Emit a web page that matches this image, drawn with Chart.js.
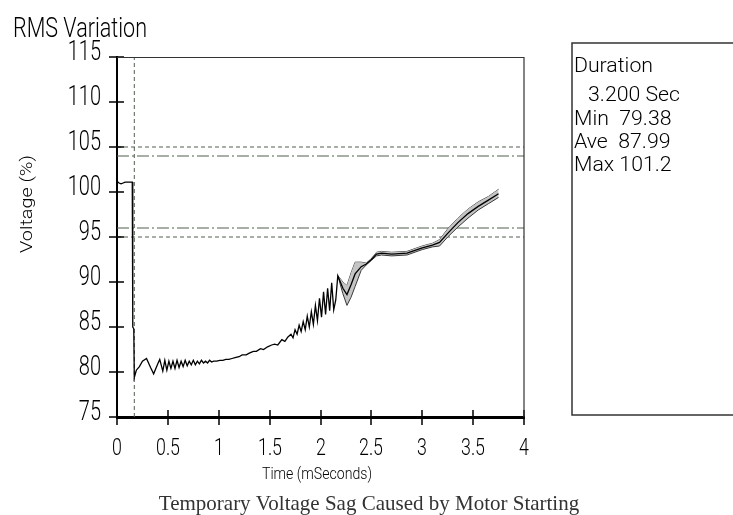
<!DOCTYPE html>
<html>
<head>
<meta charset="utf-8">
<script src="https://cdn.jsdelivr.net/npm/chart.js@4/dist/chart.umd.min.js"></script>
<style>
  html, body { margin: 0; padding: 0; background: #fff; }
  #wrap { width: 733px; height: 515px; position: relative; }
</style>
</head>
<body>
<div id="wrap"><canvas id="rms"></canvas></div>
<script>
const THIN = 'Roboto, Lato, "Liberation Sans", sans-serif';

// rms trace (seconds, % of nominal)
const timeS = [0, 0.02, 0.04, 0.06, 0.08, 0.12, 0.15, 0.155, 0.165, 0.17,
    0.19, 0.22, 0.25, 0.29, 0.33, 0.36, 0.40, 0.42, 0.45, 0.47,
    0.49, 0.51, 0.53, 0.55, 0.57, 0.59, 0.61, 0.63, 0.65, 0.67,
    0.69, 0.71, 0.73, 0.75, 0.77, 0.79, 0.81, 0.83, 0.85, 0.87,
    0.89, 0.91, 0.93, 0.95, 0.98, 1.01, 1.04, 1.07, 1.10, 1.13,
    1.16, 1.20, 1.23, 1.27, 1.30, 1.34, 1.37, 1.41, 1.44, 1.48,
    1.52, 1.55, 1.58, 1.62, 1.65, 1.68, 1.71, 1.73, 1.75, 1.77,
    1.79, 1.81, 1.83, 1.85, 1.87, 1.89, 1.91, 1.93, 1.95, 1.97,
    1.99, 2.01, 2.03, 2.05, 2.07, 2.09, 2.11, 2.13, 2.15, 2.17,
    2.22, 2.26, 2.30, 2.34, 2.40, 2.45, 2.50, 2.55, 2.60, 2.70,
    2.85, 3.00, 3.10, 3.17, 3.25, 3.35, 3.45, 3.55, 3.65, 3.75];
const rmsPct = [101.2, 101.0, 100.9, 101.0, 101.1, 101.1, 101.1, 85.0, 84.8, 79.4,
    80.2, 80.6, 81.2, 81.5, 80.5, 79.8, 80.9, 81.4, 80.1, 81.3,
    80.2, 81.2, 80.4, 81.2, 80.4, 81.3, 80.5, 81.2, 80.6, 81.3,
    80.7, 81.2, 80.8, 81.3, 80.8, 81.2, 80.9, 81.3, 81.0, 81.2,
    81.0, 81.3, 81.1, 81.2, 81.2, 81.3, 81.3, 81.4, 81.4, 81.5,
    81.6, 81.7, 81.9, 81.9, 82.1, 82.3, 82.3, 82.6, 82.5, 82.8,
    83.0, 83.1, 83.0, 83.6, 83.4, 83.9, 84.2, 83.8, 84.7, 84.2,
    85.2, 84.5, 85.6, 84.7, 86.2, 85.0, 86.7, 85.3, 87.4, 85.7,
    88.2, 86.1, 88.9, 86.4, 89.3, 86.8, 89.9, 86.9, 88.0, 90.7,
    89.3, 88.6, 89.7, 90.9, 91.7, 92.0, 92.5, 93.1, 93.2, 93.1,
    93.2, 93.8, 94.1, 94.4, 95.4, 96.6, 97.6, 98.4, 99.1, 99.8];

// min / max envelope
const bandTime = [2.17, 2.22, 2.26, 2.30, 2.34, 2.40, 2.45, 2.50, 2.55, 2.60,
    2.70, 2.85, 3.00, 3.10, 3.17, 3.25, 3.35, 3.45, 3.55, 3.65, 3.75];
const bandHigh = [90.7, 90.0, 89.6, 91.0, 92.2, 92.2, 92.1, 92.6, 93.3, 93.4,
    93.3, 93.4, 94.0, 94.3, 94.7, 95.9, 97.1, 98.1, 98.9, 99.5, 100.3];
const bandLow = [90.7, 88.7, 87.4, 88.3, 89.5, 91.3, 91.9, 92.4, 92.9, 93.0,
    92.9, 93.0, 93.6, 93.9, 94.0, 95.0, 96.1, 97.1, 98.0, 98.7, 99.4];

const limitLevels = [105, 104, 96, 95];
const limitDashes = [[4, 3], [12, 3, 2, 3], [12, 3, 2, 3], [4, 3]];
const markerTime = 0.17;

const xRange = [0, 4];
const yRange = [75, 115];

const statLines = ['Duration', '3.200 Sec', 'Min  79.38', 'Ave  87.99', 'Max 101.2'];

function pts(xs, ys) {
    return xs.map((x, i) => ({x: x, y: ys[i]}));
}

let datasets = [
    {
        label: 'rms',
        data: pts(timeS, rmsPct),
        borderColor: '#000',
        borderWidth: 1.3,
        pointRadius: 0,
        fill: false,
        order: 0
    },
    {
        label: 'high',
        data: pts(bandTime, bandHigh),
        borderColor: '#3a3a3a',
        borderWidth: 1,
        pointRadius: 0,
        fill: false,
        order: 2
    },
    {
        label: 'low',
        data: pts(bandTime, bandLow),
        borderColor: '#3a3a3a',
        backgroundColor: '#c4c4c4',
        borderWidth: 1,
        pointRadius: 0,
        fill: '-1',
        order: 1
    }
];

limitLevels.forEach(function (lvl, i) {
    datasets.push({
        label: 'limit' + lvl,
        data: pts(xRange, [lvl, lvl]),
        borderColor: '#4f5e4f',
        borderWidth: 1,
        borderDash: limitDashes[i],
        pointRadius: 0,
        fill: false,
        order: 3
    });
});

datasets.push({
    label: 'marker',
    data: pts([markerTime, markerTime], yRange),
    borderColor: '#4f5e4f',
    borderWidth: 1,
    borderDash: [4, 3],
    pointRadius: 0,
    fill: false,
    order: 3
});

function squeezeText(ctx, text, x, y, size, sx, align) {
    ctx.save();
    ctx.font = '300 ' + size + 'px ' + THIN;
    ctx.translate(x, y);
    ctx.scale(sx, 1);
    ctx.textAlign = align;
    ctx.fillText(text, 0, 0);
    ctx.restore();
}

function fitText(ctx, text, x, y, size, width, align) {
    ctx.font = '300 ' + size + 'px ' + THIN;
    let sx = width / ctx.measureText(text).width;
    squeezeText(ctx, text, x, y, size, sx, align);
    return sx;
}

// tick marks that cross the axes, labels, frame, and the side texts
const decor = {
    id: 'decor',
    afterDraw(chart) {
        const {ctx, chartArea: a, scales: {x, y}} = chart;
        ctx.save();
        ctx.strokeStyle = '#000';
        ctx.fillStyle = '#000';
        ctx.lineWidth = 1.5;
        ctx.textBaseline = 'alphabetic';
        ctx.beginPath();
        y.ticks.forEach(function (t) {
            let py = Math.round(y.getPixelForValue(t.value));
            ctx.moveTo(a.left - 8, py);
            ctx.lineTo(a.left + 7, py);
            squeezeText(ctx, String(t.value), a.left - 16, py + 3, 27, 0.74, 'right');
        });
        x.ticks.forEach(function (t) {
            let px = Math.round(x.getPixelForValue(t.value));
            ctx.moveTo(px, a.bottom - 7);
            ctx.lineTo(px, a.bottom + 8);
            squeezeText(ctx, String(t.value), px, 455, 24, 0.74, 'center');
        });
        ctx.stroke();

        ctx.strokeStyle = '#333';
        ctx.lineWidth = 1.2;
        ctx.beginPath();
        ctx.moveTo(a.left, a.top + 0.5);
        ctx.lineTo(a.right, a.top + 0.5);
        ctx.lineTo(a.right, a.bottom);
        ctx.stroke();

        // stats box
        ctx.lineWidth = 1.5;
        ctx.strokeRect(572, 43, 200, 372);
        let sx = fitText(ctx, statLines[0], 574, 72, 21, 79, 'left');
        const rowX = [574, 588, 574, 574, 574];
        const rowY = [72, 101, 125, 148, 171];
        for (let i = 1; i < statLines.length; i++) {
            squeezeText(ctx, statLines[i], rowX[i], rowY[i], 21, sx, 'left');
        }

        fitText(ctx, 'RMS Variation', 13, 37, 27, 134, 'left');
        fitText(ctx, 'Time (mSeconds)', 317, 479, 16, 110, 'center');

        ctx.save();
        ctx.translate(32, 204);
        ctx.rotate(-Math.PI / 2);
        fitText(ctx, 'Voltage (%)', 0, 0, 16, 98, 'center');
        ctx.restore();

        ctx.fillStyle = '#333';
        ctx.textAlign = 'center';
        ctx.font = '21px "Liberation Serif", "DejaVu Serif", serif';
        ctx.fillText('Temporary Voltage Sag Caused by Motor Starting', 369, 510);
        ctx.restore();
    }
};

new Chart(document.getElementById('rms').getContext('2d'), {
    type: 'line',
    data: {datasets: datasets},
    options: {
        animation: false,
        responsive: true,
        maintainAspectRatio: false,
        layout: {padding: {left: 0, top: 57, right: 209, bottom: 0}},
        plugins: {
            legend: {display: false},
            tooltip: {enabled: false}
        },
        scales: {
            x: {
                type: 'linear',
                min: xRange[0],
                max: xRange[1],
                afterFit: function (s) { s.height = 98; },
                grid: {display: false, drawTicks: false},
                border: {display: true, color: '#000', width: 3},
                ticks: {stepSize: 0.5, display: false}
            },
            y: {
                type: 'linear',
                min: yRange[0],
                max: yRange[1],
                afterFit: function (s) { s.width = 117; },
                grid: {display: false, drawTicks: false},
                border: {display: true, color: '#000', width: 2},
                ticks: {stepSize: 5, display: false}
            }
        }
    },
    plugins: [decor]
});
</script>
</body>
</html>
